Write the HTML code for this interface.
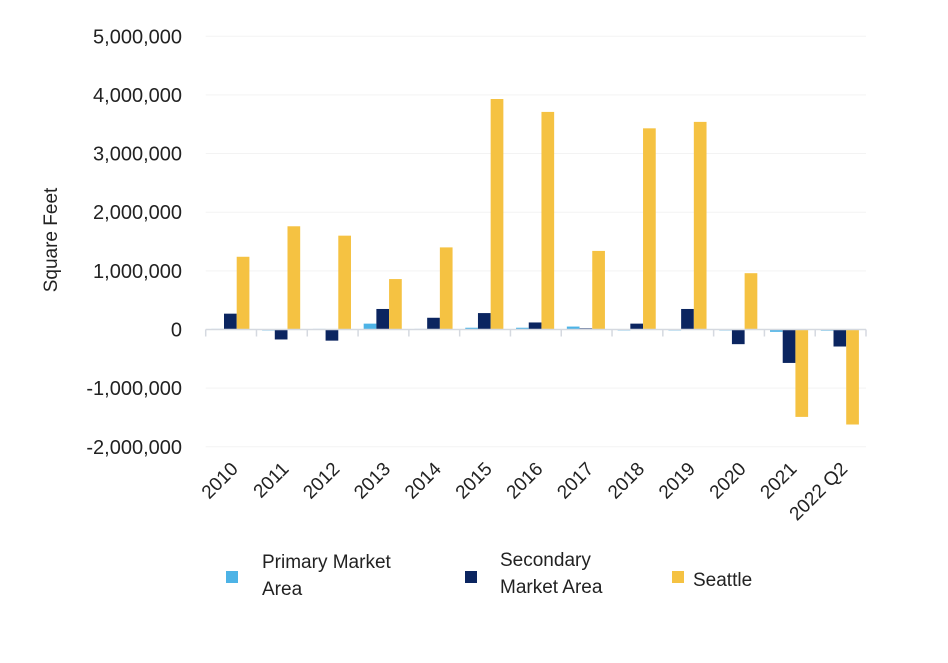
<!DOCTYPE html>
<html><head><meta charset="utf-8"><style>
body{margin:0;background:#fff;font-family:"Liberation Sans",sans-serif;}
</style></head><body>
<svg id="chart" width="948" height="658" xmlns="http://www.w3.org/2000/svg" font-family="Liberation Sans, sans-serif">
<g id="grid"></g><g id="bars"></g><g id="axes"></g>
<text transform="translate(57,240) rotate(-90)" text-anchor="middle" font-size="19" fill="#222">Square Feet</text>
<g font-size="19" fill="#222">
<rect x="226" y="571" width="12" height="12" fill="#4db3e6"/>
<text x="262" y="568">Primary Market</text>
<text x="262" y="595">Area</text>
<rect x="465" y="571" width="12" height="12" fill="#0b2560"/>
<text x="500" y="566">Secondary</text>
<text x="500" y="593">Market Area</text>
<rect x="672" y="571" width="12" height="12" fill="#f5c242"/>
<text x="693" y="586">Seattle</text>
</g>
</svg>
<script>
const categories=["2010","2011","2012","2013","2014","2015","2016","2017","2018","2019","2020","2021","2022 Q2"];
const primary=[0.01,-0.01,0.01,0.1,0.01,0.03,0.03,0.05,-0.01,-0.01,-0.01,-0.04,-0.02];
const secondary=[0.27,-0.17,-0.19,0.35,0.2,0.28,0.12,0.02,0.1,0.35,-0.25,-0.57,-0.29];
const seattle=[1.24,1.76,1.6,0.86,1.4,3.93,3.71,1.34,3.43,3.54,0.96,-1.49,-1.62];
const yTicks=[5,4,3,2,1,0,-1,-2];
const yTickLabels=["5,000,000","4,000,000","3,000,000","2,000,000","1,000,000","0","-1,000,000","-2,000,000"];
const NS="http://www.w3.org/2000/svg";
const x0=205.7,x1=866,step=(x1-x0)/categories.length;
function y(v){return 329.5-v*58.65;}
function xc(i){return x0+i*step;}
function mk(t,a,p){const e=document.createElementNS(NS,t);for(const k in a)e.setAttribute(k,a[k]);document.getElementById(p).appendChild(e);return e;}
yTicks.forEach((v,i)=>{
 if(v!==0){const g=mk('line',{x1:x0,x2:x1,y1:y(v),y2:y(v),stroke:'#f3f3f3','stroke-width':1},'grid');
 
 }
 const t=mk('text',{x:182,y:y(v)+7,'text-anchor':'end','font-size':20,fill:'#222'},'axes');
 t.textContent=yTickLabels[i];
 
 
});
const series=[[primary,'#4db3e6',5.6],[secondary,'#0b2560',18.3],[seattle,'#f5c242',31]];
series.forEach(([vals,col,off],s)=>{
 vals.forEach((v,i)=>{
  const top=Math.min(y(v),y(0)),h=Math.max(Math.abs(y(v)-y(0)),1);
  const r=mk('rect',{x:xc(i)+off,y:top,width:12.7,height:h,fill:col},'bars');
  
  
 });
});
const ax=mk('line',{x1:x0,x2:x1,y1:y(0),y2:y(0),stroke:'#d5d9e0','stroke-width':1.5},'axes');


for(let i=0;i<=categories.length;i++){
 const tk=mk('line',{x1:xc(i),x2:xc(i),y1:y(0),y2:y(0)+7,stroke:'#d5d9e0','stroke-width':1.5},'axes');
 
 
}
categories.forEach((c,i)=>{
 const cx=xc(i)+step/2+8;
 const t=mk('text',{x:cx,y:470,'text-anchor':'end','font-size':19,fill:'#222',transform:`rotate(-45 ${cx} 470)`},'axes');
 t.textContent=c;
 
 
});
</script>
</body></html>
